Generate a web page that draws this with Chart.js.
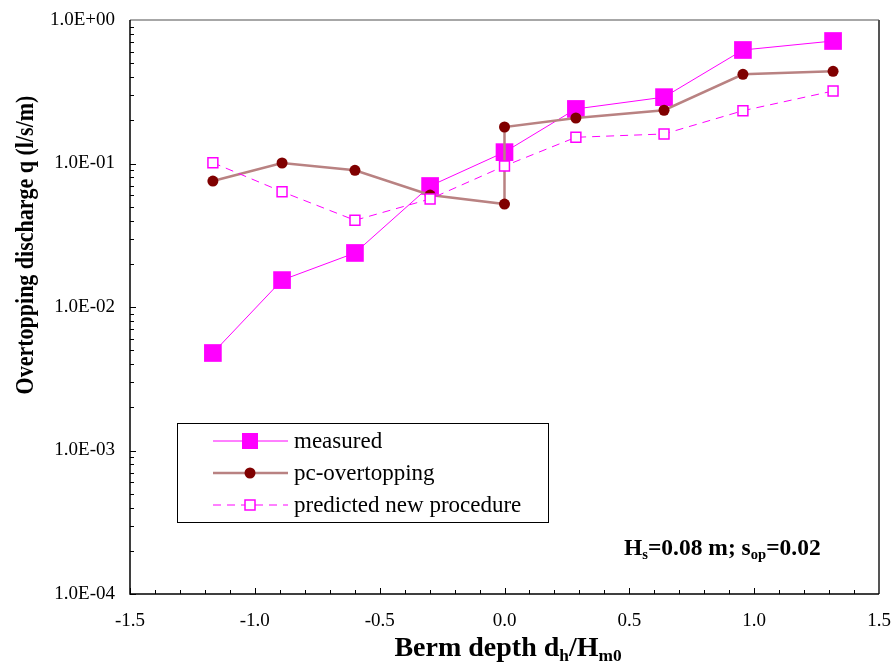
<!DOCTYPE html>
<html>
<head>
<meta charset="utf-8">
<script src="https://cdn.jsdelivr.net/npm/chart.js@4/dist/chart.umd.min.js"></script>
<style>
  html, body { margin: 0; padding: 0; background: #ffffff; }
  #wrap { width: 894px; height: 663px; position: relative; }
</style>
</head>
<body>
<div id="wrap"><canvas id="c" width="894" height="663"></canvas></div>
<script>
// ---- data ----
const seriesNames = ['measured', 'pc-overtopping', 'predicted new procedure'];
const xMeasured = [-1.168, -0.891, -0.599, -0.298, 0.0, 0.286, 0.639, 0.955, 1.316];
const measured = [0.00478, 0.0154, 0.0238, 0.0697, 0.120, 0.240, 0.290, 0.618, 0.714];
const xPc = [-1.168, -0.891, -0.599, -0.298, 0.0, 0.0, 0.286, 0.639, 0.955, 1.316];
const pcOvertopping = [0.0755, 0.1008, 0.0897, 0.0603, 0.0522, 0.1796, 0.2075, 0.235, 0.418, 0.439];
const xPredicted = [-1.168, -0.891, -0.599, -0.298, 0.0, 0.286, 0.639, 0.955, 1.316];
const predicted = [0.1013, 0.0636, 0.0402, 0.0566, 0.0961, 0.1523, 0.1606, 0.2333, 0.320];
const xTicks = [-1.5, -1.0, -0.5, 0.0, 0.5, 1.0, 1.5];
const yTicks = [1e-4, 1e-3, 1e-2, 1e-1, 1];
const yTickLabels = ['1.0E-04', '1.0E-03', '1.0E-02', '1.0E-01', '1.0E+00'];

const MAG = '#FF00FF', PCLINE = '#B98282', PCDOT = '#800000';
const SERIF = '"Liberation Serif", "Times New Roman", serif';

function pts(xs, ys) { return xs.map((x, i) => ({ x: x, y: ys[i] })); }

const framePlugin = {
  id: 'frame',
  beforeDatasetsDraw(chart) {
    const { ctx, chartArea: a, scales } = chart;
    ctx.save();
    const ys = scales.y;
    ctx.strokeStyle = '#000';
    ctx.lineWidth = 1;
    for (let e = -4; e < 0; e++) {
      for (let m = 1; m <= 9; m++) {
        const v = m * Math.pow(10, e);
        const py = Math.round(ys.getPixelForValue(v)) + 0.5;
        const len = m === 1 ? 6 : 4;
        ctx.beginPath(); ctx.moveTo(a.left, py); ctx.lineTo(a.left + len, py); ctx.stroke();
      }
    }
    const xs = scales.x;
    for (let i = 0; i <= 30; i++) {
      const v = -1.5 + i * 0.1;
      const px = Math.round(xs.getPixelForValue(v)) + 0.5;
      const len = (i % 5 === 0) ? 6 : 4;
      ctx.beginPath(); ctx.moveTo(px, a.bottom); ctx.lineTo(px, a.bottom - len); ctx.stroke();
    }
    ctx.lineWidth = 1.5;
    ctx.strokeStyle = '#8a8a8a';
    ctx.beginPath(); ctx.moveTo(a.left, a.top); ctx.lineTo(a.right, a.top); ctx.stroke();
    ctx.strokeStyle = '#555';
    ctx.lineWidth = 2;
    ctx.beginPath(); ctx.moveTo(a.right, a.top); ctx.lineTo(a.right, a.bottom); ctx.stroke();
    ctx.strokeStyle = '#000';
    ctx.lineWidth = 1.5;
    ctx.beginPath(); ctx.moveTo(a.left, a.top); ctx.lineTo(a.left, a.bottom); ctx.lineTo(a.right, a.bottom); ctx.stroke();
    ctx.restore();
  },
  afterDraw(chart) {
    const { ctx } = chart;
    ctx.save();
    ctx.fillStyle = '#000';
    ctx.save();
    ctx.translate(26, 245);
    ctx.rotate(-Math.PI / 2);
    ctx.scale(1, 1.18);
    ctx.font = 'bold 22px ' + SERIF;
    ctx.textAlign = 'center';
    ctx.textBaseline = 'middle';
    ctx.fillText('Overtopping discharge q (l/s/m)', 0, 0);
    ctx.restore();

    function richText(parts, x, y, size, bold) {
      let cx = x;
      for (const p of parts) {
        const s = p.sub ? size * 0.62 : size;
        ctx.font = (bold ? 'bold ' : '') + s + 'px ' + SERIF;
        ctx.fillText(p.t, cx, y + (p.sub ? size * 0.18 : 0));
        cx += ctx.measureText(p.t).width;
      }
      return cx - x;
    }
    function richWidth(parts, size, bold) {
      let w = 0;
      for (const p of parts) {
        const s = p.sub ? size * 0.62 : size;
        ctx.font = (bold ? 'bold ' : '') + s + 'px ' + SERIF;
        w += ctx.measureText(p.t).width;
      }
      return w;
    }
    ctx.textAlign = 'left';
    ctx.textBaseline = 'alphabetic';
    const xt = [{ t: 'Berm depth d' }, { t: 'h', sub: true }, { t: '/H' }, { t: 'm0', sub: true }];
    const xw = richWidth(xt, 28, true);
    richText(xt, 508 - xw / 2, 656, 28, true);

    const an = [{ t: 'H' }, { t: 's', sub: true }, { t: '=0.08 m; s' }, { t: 'op', sub: true }, { t: '=0.02' }];
    richText(an, 624, 555, 23.5, true);

    ctx.fillStyle = '#fff';
    ctx.fillRect(177, 423, 371, 99);
    ctx.strokeStyle = '#000';
    ctx.lineWidth = 1;
    ctx.strokeRect(177.5, 423.5, 371, 99);
    const rows = [441, 473, 505];
    const x0 = 213, x1 = 288, xm = 250;
    ctx.strokeStyle = MAG; ctx.lineWidth = 1;
    ctx.beginPath(); ctx.moveTo(x0, rows[0]); ctx.lineTo(x1, rows[0]); ctx.stroke();
    ctx.fillStyle = MAG; ctx.fillRect(xm - 8, rows[0] - 8, 16, 16);
    ctx.strokeStyle = PCLINE; ctx.lineWidth = 2.5;
    ctx.beginPath(); ctx.moveTo(x0, rows[1]); ctx.lineTo(x1, rows[1]); ctx.stroke();
    ctx.fillStyle = PCDOT; ctx.beginPath(); ctx.arc(xm, rows[1], 5.5, 0, Math.PI * 2); ctx.fill();
    ctx.strokeStyle = MAG; ctx.lineWidth = 1; ctx.setLineDash([8, 6]);
    ctx.beginPath(); ctx.moveTo(x0, rows[2]); ctx.lineTo(x1, rows[2]); ctx.stroke();
    ctx.setLineDash([]);
    ctx.fillStyle = '#fff'; ctx.fillRect(xm - 5, rows[2] - 5, 10, 10);
    ctx.lineWidth = 1.5; ctx.strokeRect(xm - 5, rows[2] - 5, 10, 10);
    ctx.fillStyle = '#000';
    ctx.font = '23px ' + SERIF;
    ctx.textBaseline = 'middle';
    for (let i = 0; i < 3; i++) ctx.fillText(seriesNames[i], 294, rows[i] + 1);
    ctx.restore();
  }
};

new Chart(document.getElementById('c'), {
  type: 'scatter',
  data: {
    datasets: [
      {
        label: seriesNames[0], data: pts(xMeasured, measured), showLine: true, order: 3,
        borderColor: MAG, borderWidth: 1,
        pointStyle: 'rect', pointRadius: 12.5, pointBackgroundColor: MAG, pointBorderColor: MAG, pointBorderWidth: 0
      },
      {
        label: seriesNames[1], data: pts(xPc, pcOvertopping), showLine: true, order: 2,
        borderColor: PCLINE, borderWidth: 2.5,
        pointStyle: 'circle', pointRadius: 5.5, pointBackgroundColor: PCDOT, pointBorderColor: PCDOT, pointBorderWidth: 0
      },
      {
        label: seriesNames[2], data: pts(xPredicted, predicted), showLine: true, order: 1,
        borderColor: MAG, borderWidth: 1, borderDash: [8, 6],
        pointStyle: 'rect', pointRadius: 7, pointBackgroundColor: '#fff', pointBorderColor: MAG, pointBorderWidth: 1.5
      }
    ]
  },
  options: {
    responsive: false,
    devicePixelRatio: 1,
    animation: false,
    layout: { padding: { left: 0, right: 15, top: 20, bottom: 0 } },
    plugins: { legend: { display: false }, tooltip: { enabled: false } },
    scales: {
      x: {
        type: 'linear', min: -1.5, max: 1.5,
        grid: { display: false, drawTicks: false },
        border: { display: false },
        afterBuildTicks: (s) => { s.ticks = xTicks.map(v => ({ value: v })); },
        afterFit: (s) => { s.height = 69; s.paddingLeft = 0; s.paddingRight = 0; },
        ticks: {
          autoSkip: false, maxRotation: 0, padding: 16, color: '#000',
          font: { family: SERIF, size: 19 },
          callback: (v) => Number(v).toFixed(1)
        }
      },
      y: {
        type: 'logarithmic', min: 1e-4, max: 1,
        grid: { display: false, drawTicks: false },
        border: { display: false },
        afterBuildTicks: (s) => { s.ticks = yTicks.map(v => ({ value: v, major: true })); },
        afterFit: (s) => { s.width = 130; s.paddingTop = 0; s.paddingBottom = 0; },
        ticks: {
          autoSkip: false, padding: 15, color: '#000',
          font: { family: SERIF, size: 19 },
          callback: (v) => { const i = yTicks.findIndex(t => Math.abs(t - v) / t < 1e-6); return i >= 0 ? yTickLabels[i] : ''; }
        }
      }
    }
  },
  plugins: [framePlugin]
});
</script>
</body>
</html>
